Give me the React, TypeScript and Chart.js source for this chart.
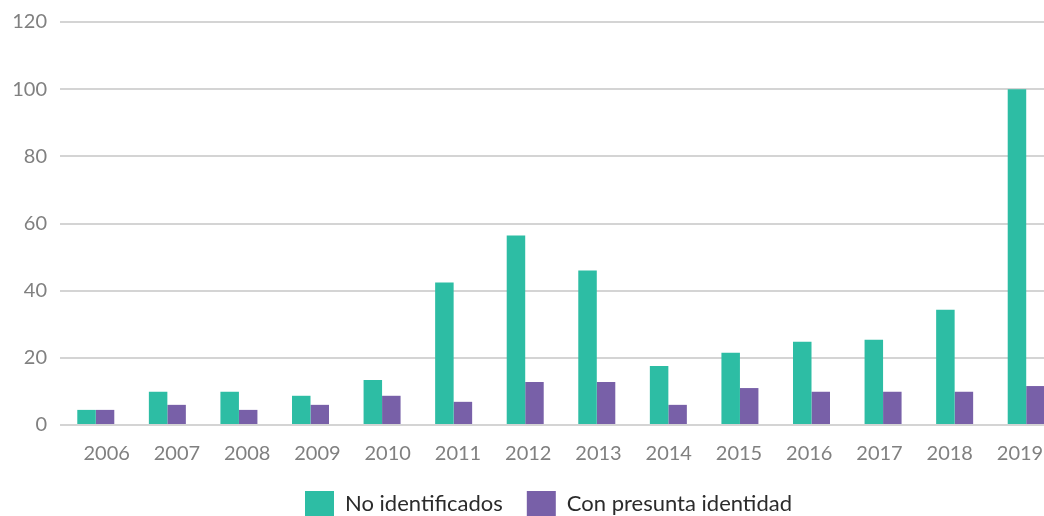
import React, { useEffect, useRef } from "react";
import { Chart, registerables } from "chart.js";

Chart.register(...registerables);

const years = ["2006", "2007", "2008", "2009", "2010", "2011", "2012", "2013", "2014", "2015", "2016", "2017", "2018", "2019"];
const noIdentificados = [4.5, 9.9, 9.9, 8.7, 13.4, 42.4, 56.4, 46.0, 17.6, 21.5, 24.8, 25.4, 34.3, 100];
const conPresuntaIdentidad = [4.5, 6.0, 4.5, 6.0, 8.7, 6.9, 12.8, 12.8, 6.0, 11.0, 9.9, 9.9, 9.9, 11.6];
const yTicks = [0, 20, 40, 60, 80, 100, 120];

const legendShift = {
  id: "legendShift",
  afterLayout(chart: any) {
    if (chart.legend) {
      chart.legend.left += 35;
    }
  },
};

export default function App() {
  const ref = useRef<HTMLCanvasElement | null>(null);
  useEffect(() => {
    if (!ref.current) return;
    const chart = new Chart(ref.current, {
      type: "bar",
      data: {
        labels: years,
        datasets: [
          {
            label: "No identificados",
            data: noIdentificados,
            backgroundColor: "#2dbda4",
            categoryPercentage: 0.517,
            barPercentage: 1,
          },
          {
            label: "Con presunta identidad",
            data: conPresuntaIdentidad,
            backgroundColor: "#7860a8",
            categoryPercentage: 0.517,
            barPercentage: 1,
          },
        ],
      },
      plugins: [legendShift],
      options: {
        animation: false,
        responsive: true,
        maintainAspectRatio: false,
        layout: { padding: { top: 22, right: 0, bottom: -10, left: 0 } },
        plugins: {
          tooltip: { enabled: false },
          legend: {
            position: "bottom",
            labels: {
              boxWidth: 29,
              boxHeight: 25,
              padding: 24,
              color: "#2b2b2b",
              font: { family: "Lato", size: 22 },
            },
          },
        },
        scales: {
          x: {
            display: false,
            grid: { display: false },
          },
          xLabels: {
            type: "linear",
            position: "bottom",
            offset: false,
            min: -0.665,
            max: 13.598,
            afterBuildTicks: (scale: any) => {
              scale.ticks = years.map((_, i) => ({ value: i }));
            },
            grid: { display: false, drawTicks: false, offset: false },
            border: { display: false },
            ticks: {
              autoSkip: false,
              maxRotation: 0,
              color: "#808080",
              font: { family: "Lato", size: 20 },
              padding: 17,
              callback: (v: any) => years[Math.round(Number(v))],
            },
            afterFit: (scale: any) => {
              scale.height = 42;
              scale.paddingLeft = 0;
              scale.paddingRight = 0;
            },
          },
          y: {
            min: 0,
            max: 120,
            afterBuildTicks: (scale: any) => {
              scale.ticks = yTicks.map((v) => ({ value: v }));
            },
            afterFit: (scale: any) => {
              scale.width = 60;
              scale.paddingTop = 0;
              scale.paddingBottom = 0;
            },
            grid: { color: "#d4d4d4", lineWidth: 2, drawTicks: false },
            border: { display: false },
            ticks: { color: "#808080", font: { family: "Lato", size: 20 }, padding: 13 },
          },
        },
      },
    });
    return () => chart.destroy();
  }, []);
  return (
    <div style={{ position: "absolute", left: 0, top: 0, width: 1044, height: 516, background: "#fff", overflow: "hidden" }}>
      <div style={{ position: "absolute", left: 0, top: 0, width: 1062, height: 516 }}>
        <canvas ref={ref} />
      </div>
    </div>
  );
}
